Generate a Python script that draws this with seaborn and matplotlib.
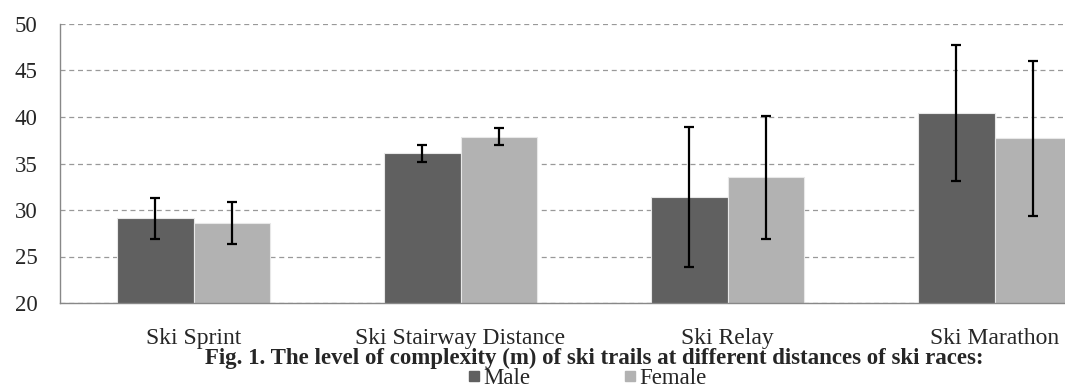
import matplotlib
matplotlib.use("Agg")
import matplotlib.pyplot as plt
from matplotlib.lines import Line2D
import pandas as pd
import seaborn as sns

categories = ["Ski Sprint", "Ski Stairway Distance", "Ski Relay", "Ski Marathon"]
groups = ["Male", "Female"]
male_mean = [29.1, 36.1, 31.4, 40.4]
female_mean = [28.6, 37.9, 33.5, 37.7]
male_err = [2.2, 0.9, 7.5, 7.3]
female_err = [2.25, 0.9, 6.6, 8.3]
y_ticks = [20, 25, 30, 35, 40, 45, 50]

colors = {"Male": "#606060", "Female": "#b2b2b2"}

df = pd.DataFrame({
    "race": categories * 2,
    "sex": ["Male"] * 4 + ["Female"] * 4,
    "value": male_mean + female_mean,
})

sns.set_style("white")
plt.rcParams["font.family"] = ["Liberation Serif", "DejaVu Serif"]

fig = plt.figure(figsize=(10.65, 3.88), dpi=100)
# plot area runs past the right edge, as in the source image
ax = fig.add_axes([60 / 1065, 85 / 388, 1068 / 1065, 279 / 388])

sns.barplot(
    data=df, x="race", y="value", hue="sex", order=categories, hue_order=groups,
    palette=colors, width=0.57, edgecolor="#e8e8e8", linewidth=0.8,
    errorbar=None, legend=False, ax=ax, zorder=2,
)

# error bars from the bar centres seaborn placed
errs = {"Male": male_err, "Female": female_err}
means = {"Male": male_mean, "Female": female_mean}
for cont, g in zip(ax.containers, groups):
    xs = [b.get_x() + b.get_width() / 2 for b in cont]
    ax.errorbar(xs, means[g], yerr=errs[g], fmt="none", ecolor="black",
                elinewidth=1.6, capsize=3.8, capthick=1.6, zorder=3)

ax.set_ylim(20, 50)
ax.set_xlim(-0.5, 3.5)
ax.set_yticks(y_ticks)
ax.set_xticks(range(len(categories)))
ax.set_xticklabels(categories)
ax.set_xticks([-0.5, 0.5, 1.5, 2.5, 3.5], minor=True)
ax.tick_params(axis="x", which="major", length=0, pad=18, labelsize=17)
ax.tick_params(axis="x", which="minor", length=5, color="#888888", direction="out")
ax.tick_params(axis="y", length=6, color="#888888", direction="out", labelsize=16.5, pad=10)
ax.set_xlabel("")
ax.set_ylabel("")
ax.yaxis.grid(True, linestyle=(0, (4, 3)), color="#999999", linewidth=0.9)
ax.set_axisbelow(True)
for s in ["top", "right"]:
    ax.spines[s].set_visible(False)
for s in ["left", "bottom"]:
    ax.spines[s].set_color("#888888")
    ax.spines[s].set_linewidth(1.0)

fig.text(594 / 1065, 1 - 364 / 388,
         "Fig. 1. The level of complexity (m) of ski trails at different distances of ski races:",
         ha="center", va="baseline", fontsize=16.5, fontweight="bold")

handles = [Line2D([], [], marker="s", linestyle="none", markersize=7,
                  markerfacecolor=colors[g], markeredgecolor=colors[g]) for g in groups]
fig.legend(handles, groups, loc="center", bbox_to_anchor=(586 / 1065, 1 - 378 / 388),
           ncol=2, frameon=False, fontsize=16.5, handletextpad=0.05,
           columnspacing=4.0, handlelength=0.7, borderpad=0, borderaxespad=0)

fig.savefig("out.png", dpi=100)
